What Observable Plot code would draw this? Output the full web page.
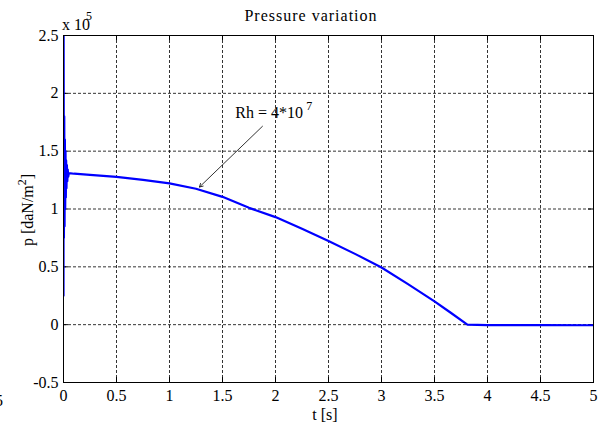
<!DOCTYPE html>
<html><head><meta charset="utf-8">
<script src="https://cdn.jsdelivr.net/npm/d3@7"></script>
<script src="https://cdn.jsdelivr.net/npm/@observablehq/plot@0.6"></script>
<style>body{margin:0;background:#fff} svg{display:block}</style>
</head><body><div id="chart"></div>
<script>
// time [s]
const time = [0, 0.001, 0.004, 0.007, 0.010, 0.013, 0.016, 0.019, 0.022, 0.025, 0.028, 0.032, 0.036, 0.040, 0.045, 0.05,
  0.1, 0.25, 0.5, 0.75, 1.0, 1.25, 1.5, 1.75, 2.0, 2.25, 2.5, 2.75, 3.0, 3.25, 3.5, 3.65, 3.81, 4.0, 4.5, 5.0];
// pressure [x 10^5 daN/m^2]
const pressure = [0.25, 2.6, 0.75, 1.8, 0.85, 1.6, 1.0, 1.5, 1.1, 1.42, 1.18, 1.38, 1.24, 1.34, 1.28, 1.31,
  1.305, 1.295, 1.277, 1.252, 1.222, 1.175, 1.105, 1.01, 0.93, 0.83, 0.724, 0.612, 0.494, 0.35, 0.202, 0.105, 0.0, -0.004, -0.004, -0.005];
const xTicks = [0, 0.5, 1, 1.5, 2, 2.5, 3, 3.5, 4, 4.5, 5];
const yTicks = [-0.5, 0, 0.5, 1, 1.5, 2, 2.5];
const titleText = "Pressure variation";
const xLabelText = "t [s]";
const yLabelText = "p [daN/m";
const yLabelSup = "2";
const scaleText = "x 10";
const scaleSup = "5";
const noteText = "Rh = 4*10";
const noteSup = "7";

const data = time.map((t, i) => ({t, p: pressure[i]}));
const font = "Liberation Serif, Times New Roman, serif";

const plot = Plot.plot({
  width: 598, height: 424,
  marginLeft: 63, marginRight: 5, marginTop: 35, marginBottom: 42,
  style: {fontFamily: font, fontSize: "16px", background: "#fff", color: "#000"},
  x: {domain: [0, 5], label: null},
  y: {domain: [-0.5, 2.5], label: null},
  marks: [
    Plot.ruleX(xTicks.slice(1, -1), {stroke: "#000", strokeOpacity: 0.8, strokeDasharray: "3,2"}),
    Plot.ruleY(yTicks.slice(1, -1), {stroke: "#000", strokeOpacity: 0.8, strokeDasharray: "3,2"}),
    Plot.ruleX(xTicks, {x: d => d, y1: -0.5, y2: -0.457, stroke: "#000"}),
    Plot.ruleX(xTicks, {x: d => d, y1: 2.457, y2: 2.5, stroke: "#000"}),
    Plot.ruleY(yTicks, {y: d => d, x1: 0, x2: 0.047, stroke: "#000"}),
    Plot.ruleY(yTicks, {y: d => d, x1: 4.953, x2: 5, stroke: "#000"}),
    Plot.line(data, {x: "t", y: "p", stroke: "#0000ff", strokeWidth: 2.2, clip: true}),
    Plot.frame({stroke: "#000"}),
    Plot.axisX(xTicks, {tickSize: 0, tickPadding: 7, tickFormat: d => String(d), fontSize: 16}),
    Plot.axisY(yTicks, {tickSize: 0, tickPadding: 5, tickFormat: d => String(d), fontSize: 16}),
    Plot.arrow([0], {x1: 1.877, y1: 1.715, x2: 1.283, y2: 1.19, stroke: "#000", strokeWidth: 0.8, headLength: 7}),
    Plot.text([noteText], {x: 1.62, y: 1.83, text: d => d, textAnchor: "start", fontSize: 16}),
    Plot.text([noteSup], {x: 1.62, y: 1.83, text: d => d, textAnchor: "start", dx: 71, dy: -7, fontSize: 12})
  ]
});

const svg = d3.select(plot);
svg.append("text").attr("x", 311).attr("y", 21).attr("text-anchor", "middle")
  .attr("font-size", 16).attr("letter-spacing", 1).text(titleText);
svg.append("text").attr("x", 325).attr("y", 420).attr("text-anchor", "middle")
  .attr("font-size", 16).text(xLabelText);
const yl = svg.append("text").attr("transform", "translate(33,210) rotate(-90)")
  .attr("text-anchor", "middle").attr("font-size", 16);
yl.append("tspan").text(yLabelText);
yl.append("tspan").attr("dy", -7).attr("font-size", 12).text(yLabelSup);
yl.append("tspan").attr("dy", 7).text("]");
const sc = svg.append("text").attr("x", 62).attr("y", 30).attr("text-anchor", "start").attr("font-size", 16);
sc.append("tspan").text(scaleText);
sc.append("tspan").attr("dy", -10).attr("dx", -4).attr("font-size", 12).text(scaleSup);
svg.append("text").attr("x", 3).attr("y", 406).attr("text-anchor", "end").attr("font-size", 16).text("5");

document.getElementById("chart").appendChild(plot);
</script>
</body></html>
